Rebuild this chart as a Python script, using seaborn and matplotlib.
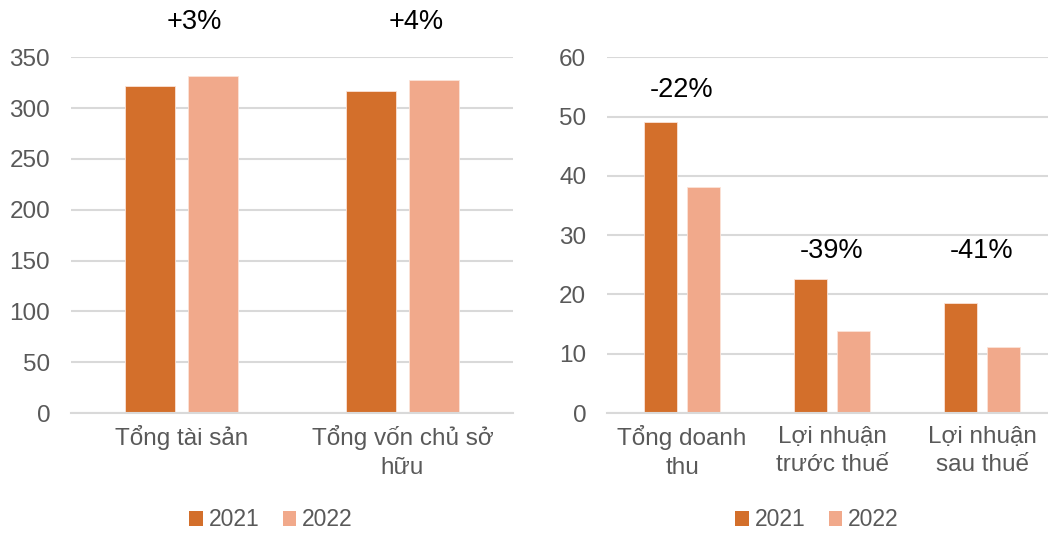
import matplotlib
matplotlib.use("Agg")
import matplotlib.pyplot as plt
import seaborn as sns
import pandas as pd
from matplotlib.patches import Patch

# ---- data ----
years = ["2021", "2022"]
left_categories = ["Tổng tài sản", "Tổng vốn chủ sở\nhữu"]
left_2021 = [322, 316.5]
left_2022 = [332, 328]
left_changes = ["+3%", "+4%"]

right_categories = ["Tổng doanh\nthu", "Lợi nhuận\ntrước thuế", "Lợi nhuận\nsau thuế"]
right_2021 = [49.1, 22.6, 18.6]
right_2022 = [38.2, 13.8, 11.1]
right_changes = ["-22%", "-39%", "-41%"]

colors = ["#D36F2B", "#F1A98B"]
grid_c = "#D9D9D9"
tick_c = "#595959"

sns.set_style("white")
plt.rcParams["font.family"] = ["Liberation Sans", "DejaVu Sans"]

fig = plt.figure(figsize=(10.48, 5.34), dpi=100)
axL = fig.add_axes([71 / 1048, 1 - 413 / 534, 442 / 1048, 355.7 / 534])
axR = fig.add_axes([607 / 1048, 1 - 413 / 534, 450 / 1048, 355.7 / 534])


def make_df(cats, a, b):
    return pd.DataFrame({
        "cat": cats * 2,
        "year": [years[0]] * len(cats) + [years[1]] * len(cats),
        "val": list(a) + list(b),
    })


dfL = make_df(left_categories, left_2021, left_2022)
dfR = make_df(right_categories, right_2021, right_2022)

for ax, df in ((axL, dfL), (axR, dfR)):
    sns.barplot(data=df, x="cat", y="val", hue="year", palette=colors,
                saturation=1, width=0.575, gap=0.22, ax=ax, legend=False,
                edgecolor="#FBE3D8", linewidth=0.6, errorbar=None)
    ax.set_xlabel("")
    ax.set_ylabel("")
    ax.yaxis.grid(True, color=grid_c, linewidth=1.5)
    ax.set_axisbelow(True)
    for s in ("top", "right", "left"):
        ax.spines[s].set_visible(False)
    ax.spines["bottom"].set_color(grid_c)
    ax.spines["bottom"].set_linewidth(1.5)
    ax.tick_params(axis="both", length=0, labelsize=17.5, colors=tick_c)
    ax.tick_params(axis="y", pad=15)
    ax.tick_params(axis="x", pad=9)
    for lab in ax.get_xticklabels():
        lab.set_linespacing(1.4)

axL.set_ylim(0, 350)
axL.set_yticks(range(0, 351, 50))
axL.set_xlim(-0.5, len(left_categories) - 0.5)
axR.set_ylim(0, 60)
axR.set_yticks(range(0, 61, 10))
axR.set_xlim(-0.5, len(right_categories) - 0.5)

# change annotations
for i, t in enumerate(left_changes):
    axL.text(i + 0.06, 385, t, ha="center", va="center", fontsize=19.5,
             color="black", clip_on=False)
right_y = [54.5, 27.3, 27.3]
for i, t in enumerate(right_changes):
    axR.text(i, right_y[i], t, ha="center", va="center", fontsize=19.5,
             color="black", clip_on=False)

handles = [Patch(facecolor=c, edgecolor="none") for c in colors]
for cx in (271 / 1048, 817 / 1048):
    fig.legend(handles, years, loc="center", bbox_to_anchor=(cx, 1 - 520 / 534),
               ncol=2, frameon=False, fontsize=16.5, labelcolor=tick_c,
               handlelength=0.6, handleheight=0.65, handletextpad=0.25,
               columnspacing=1.0, borderpad=0.2)

fig.savefig("out.png", dpi=100)
